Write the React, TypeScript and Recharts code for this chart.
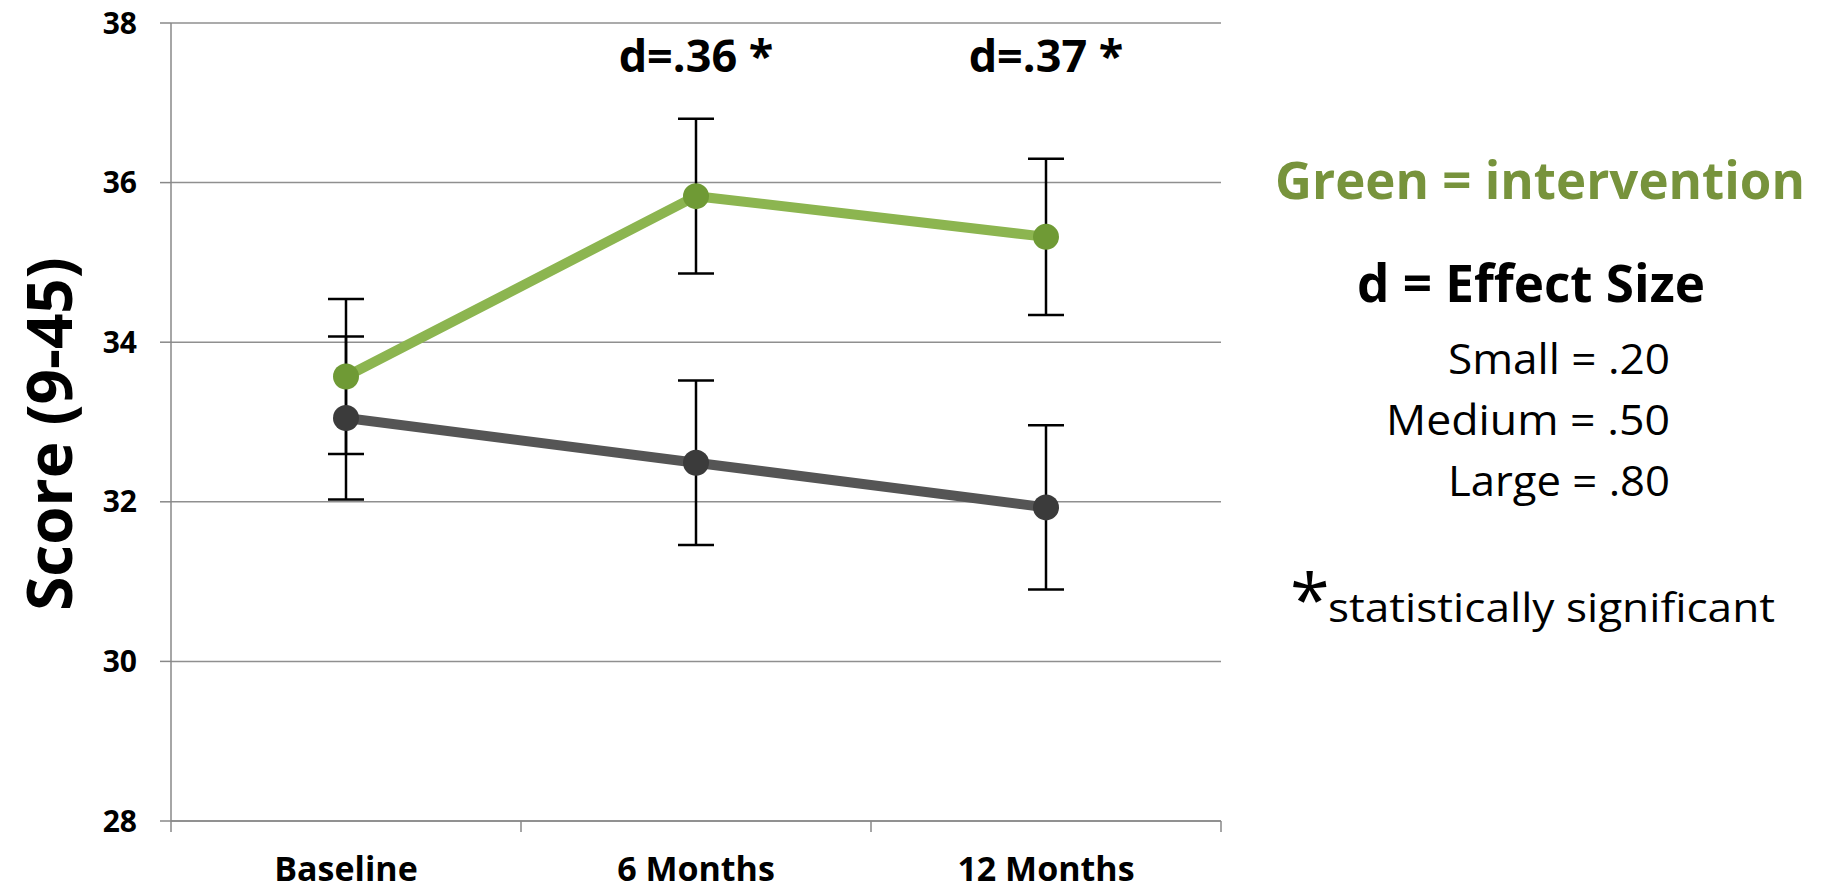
import {
  LineChart, Line, XAxis, YAxis, CartesianGrid, ErrorBar, ReferenceDot,
} from "recharts";

const categories = ["Baseline", "6 Months", "12 Months"];
const intervention = [33.57, 35.83, 35.32];
const interventionErr = [0.97, 0.97, 0.98];
const control = [33.05, 32.49, 31.93];
const controlErr = [1.02, 1.03, 1.03];
const effectLabels = ["", "d=.36 *", "d=.37 *"];
const effectLabelY = 37.6;
const yTicks = [28, 30, 32, 34, 36, 38];

const data = categories.map((name, i) => ({
  name,
  green: intervention[i],
  greenErr: interventionErr[i],
  gray: control[i],
  grayErr: controlErr[i],
}));

const FONT = "'Open Sans', 'DejaVu Sans', sans-serif";
const X_TICK_SIZE = 6;
const X_TICK_MARGIN = 30;

const ScoreLabel = ({ viewBox }: any) => {
  const cx = viewBox.x + 48;
  const cy = viewBox.y + viewBox.height / 2 + 12;
  return (
    <text x={cx} y={cy} transform={`rotate(-90 ${cx} ${cy})`} textAnchor="middle"
      dominantBaseline="central" fontFamily={FONT} fontWeight={700} fontSize={62} fill="#000">
      Score (9-45)
    </text>
  );
};

const EffectLabel = (text: string) => ({ viewBox }: any) => (
  <text x={viewBox.x + viewBox.width / 2} y={viewBox.y + viewBox.height / 2} textAnchor="middle"
    dominantBaseline="central" fontFamily={FONT} fontWeight={700} fontSize={45} fill="#000">
    {text}
  </text>
);

// category label plus excel-style tick marks on the band edges
const CategoryTick = ({ x, y, payload, index }: any) => {
  const half = payload && payload.offset ? payload.offset : 0;
  const axisY = y - X_TICK_SIZE - X_TICK_MARGIN;
  const last = index === categories.length - 1;
  return (
    <g>
      {half > 0 && (
        <line x1={x - half} x2={x - half} y1={axisY} y2={axisY + 11} stroke="#888" strokeWidth={1.5} />
      )}
      {half > 0 && last && (
        <line x1={x + half} x2={x + half} y1={axisY} y2={axisY + 11} stroke="#888" strokeWidth={1.5} />
      )}
      <text x={x} y={y} dy="0.71em" textAnchor="middle" fontFamily={FONT} fontWeight={700}
        fontSize={34} fill="#000">
        {payload.value}
      </text>
    </g>
  );
};

export default function App() {
  return (
    <div style={{ position: "relative", width: 1829, height: 892, background: "#fff" }}>
      <style>{`body{margin:0}`}</style>
      <div style={{ position: "absolute", left: 0, top: 0 }}>
        <LineChart width={1240} height={892} data={data}
          margin={{ top: 23, right: 19, bottom: 0, left: 0 }}>
          <CartesianGrid vertical={false} stroke="#8f8f8f" strokeWidth={1.5} />
          <XAxis dataKey="name" type="category" scale="band" height={71} tickLine={false}
            tickSize={X_TICK_SIZE} tickMargin={X_TICK_MARGIN} interval={0}
            axisLine={{ stroke: "#888", strokeWidth: 1.5 }} tick={<CategoryTick />} />
          <YAxis width={171} domain={[28, 38]} ticks={yTicks} allowDataOverflow
            tickSize={11} tickMargin={23}
            axisLine={{ stroke: "#888", strokeWidth: 1.5 }}
            tickLine={{ stroke: "#888", strokeWidth: 1.5 }}
            tick={{ fontSize: 30, fontWeight: 700, fill: "#000", fontFamily: FONT }}
            label={<ScoreLabel />} />
          <Line dataKey="gray" stroke="#555555" strokeWidth={10} isAnimationActive={false}
            dot={{ r: 13, fill: "#3b3b3b", stroke: "none" }} activeDot={false}>
            <ErrorBar dataKey="grayErr" width={18} stroke="#000" strokeWidth={2.5}
              direction="y" isAnimationActive={false} />
          </Line>
          <Line dataKey="green" stroke="#8cb550" strokeWidth={10} isAnimationActive={false}
            dot={{ r: 13, fill: "#6f9a35", stroke: "none" }} activeDot={false}>
            <ErrorBar dataKey="greenErr" width={18} stroke="#000" strokeWidth={2.5}
              direction="y" isAnimationActive={false} />
          </Line>
          {categories.map((c, i) =>
            effectLabels[i] ? (
              <ReferenceDot key={c} x={c} y={effectLabelY} r={0} ifOverflow="visible"
                label={EffectLabel(effectLabels[i])} />
            ) : null
          )}
        </LineChart>
      </div>
      <svg width={1829} height={892} style={{ position: "absolute", left: 0, top: 0, pointerEvents: "none" }}
        fontFamily={FONT}>
        <text x={1275} y={199} fontSize={52} fontWeight={700} fill="#77933c"
          textLength={530} lengthAdjust="spacingAndGlyphs">Green = intervention</text>
        <text x={1357} y={302} fontSize={52} fontWeight={700} fill="#000"
          textLength={348} lengthAdjust="spacingAndGlyphs">d = Effect Size</text>
        <text x={1670} y={374} fontSize={42} textAnchor="end" fill="#000"
          textLength={222} lengthAdjust="spacingAndGlyphs">Small = .20</text>
        <text x={1670} y={435} fontSize={42} textAnchor="end" fill="#000"
          textLength={284} lengthAdjust="spacingAndGlyphs">Medium = .50</text>
        <text x={1670} y={496} fontSize={42} textAnchor="end" fill="#000"
          textLength={222} lengthAdjust="spacingAndGlyphs">Large = .80</text>
        <text x={1290} y={625} fontSize={72} fill="#000">*</text>
        <text x={1328} y={622} fontSize={40} fill="#000"
          textLength={447} lengthAdjust="spacingAndGlyphs">statistically significant</text>
      </svg>
    </div>
  );
}
